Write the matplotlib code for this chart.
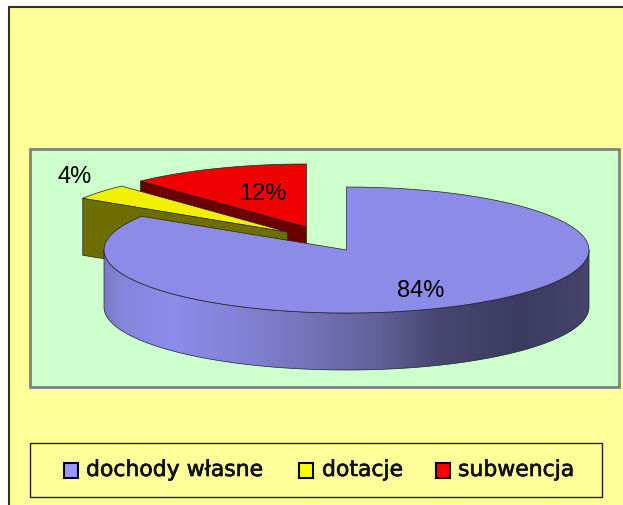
import numpy as np
import matplotlib.pyplot as plt
import matplotlib.patheffects as pe
from matplotlib.patches import Polygon, Rectangle

labels = ['dochody własne', 'dotacje', 'subwencja']
shares = [84, 4, 12]
pct_labels = ['84%', '4%', '12%']
top_colors = ['#8c8ce8', '#f0f000', '#f00000']
wall_colors = ['#8c8ce8', '#6e6e00', '#6a0000']
legend_colors = ['#9999ff', '#ffff00', '#ff0000']

# pie geometry in pixels
cx, cy = 346.5, 251
rx, ry = 242.5, 63
depth = 57
offsets = [(0, 0), (-59, -18), (-40, -23)]
label_pos = [(421, 291), (75, 177), (263, 194)]

# rim shading: pixel x and rgb
shade_x = [104, 125, 170, 250, 300, 380, 440, 520, 589]
shade_rgb = [[122, 122, 200], [134, 134, 222], [140, 140, 235], [128, 128, 210], [118, 118, 188],
             [96, 96, 154], [70, 70, 112], [60, 60, 96], [68, 68, 108]]


def sector(a0, a1, dx, dy):
    t = np.radians(np.linspace(a0, a1, 200))
    xs = cx + dx + rx * np.sin(t)
    ys = cy + dy - ry * np.cos(t)
    return np.column_stack([np.r_[cx + dx, xs], np.r_[cy + dy, ys]])


fig = plt.figure(figsize=(6.23, 5.06), dpi=100, facecolor='white')
ax = fig.add_axes([0, 0, 1, 1])
ax.set_xlim(0, 623)
ax.set_ylim(506, 0)
ax.axis('off')

# backgrounds
ax.add_patch(Rectangle((9, 8), 640, 530, fc='#ffff99', ec='#303030', lw=1.5, zorder=0))
ax.add_patch(Rectangle((30, 150), 589, 238, fc='#ccffcc', ec='#808080', lw=2, zorder=1))

ends = np.cumsum(shares) / sum(shares) * 360
starts = np.r_[0, ends[:-1]]

# exploded slices, red behind yellow
z = 2
for i in [2, 1]:
    dx, dy = offsets[i]
    pts = sector(starts[i], ends[i], dx, dy)
    # cut wall runs from the centre to the first edge of the slice
    wall = np.array([pts[0], pts[1], pts[1] + [0, depth], pts[0] + [0, depth]])
    ax.add_patch(Polygon(wall, fc=wall_colors[i], ec='#202020', lw=0.5, zorder=z))
    ax.add_patch(Polygon(pts, fc=top_colors[i], ec='#202020', lw=0.5, zorder=z + 1))
    z += 2

# big slice: rim with left to right shading, then top face
t = np.radians(np.linspace(90, 270, 300))
rim_x = cx + rx * np.sin(t)
rim_y = cy - ry * np.cos(t)
rim = np.column_stack([np.r_[rim_x, rim_x[::-1]], np.r_[rim_y + depth, rim_y[::-1]]])
rim_patch = Polygon(rim, fc='none', ec='#202020', lw=0.5, zorder=7)
ax.add_patch(rim_patch)
shade = np.array(shade_rgb) / 255
xs_shade = np.arange(shade_x[0], shade_x[-1] + 1)
grad = np.column_stack([np.interp(xs_shade, shade_x, shade[:, c]) for c in range(3)])
im = ax.imshow(grad[np.newaxis, :, :], extent=(shade_x[0], shade_x[-1], cy + ry + depth, cy - ry),
               aspect='auto', zorder=6)
im.set_clip_path(rim_patch)
ax.set_xlim(0, 623)
ax.set_ylim(506, 0)
ax.add_patch(Polygon(sector(starts[0], ends[0], 0, 0), fc=top_colors[0], ec='#202020', lw=0.5, zorder=8))

for txt, (x, y) in zip(pct_labels, label_pos):
    ax.text(x, y, txt, family='Liberation Sans', fontsize=17, color='black',
            ha='center', va='center', zorder=9)

# legend
ax.add_patch(Rectangle((30, 444), 572, 54, fc='#ffff99', ec='#202020', lw=1, zorder=1))
swatch_x = [64, 299, 436]
text_x = [86, 322, 458]
for name, col, sx, tx in zip(labels, legend_colors, swatch_x, text_x):
    ax.add_patch(Rectangle((sx, 464), 14, 15, fc=col, ec='black', lw=1.5, zorder=2))
    ax.text(tx, 471, name, family='DejaVu Sans', fontsize=15.8, color='#101010',
            ha='left', va='center', zorder=2,
            path_effects=[pe.withStroke(linewidth=0.5, foreground='#101010')])

fig.savefig('out.png', dpi=100)
